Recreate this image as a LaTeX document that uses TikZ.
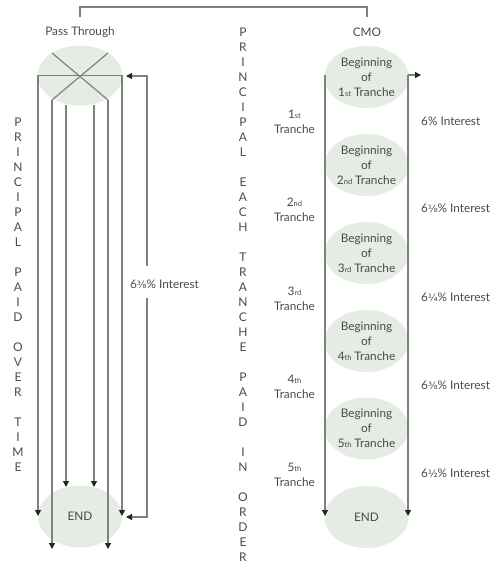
\documentclass[tikz,border=0pt]{standalone}
\usepackage{fontspec}
\setmainfont{Lato}
\newfontfamily\fracfont{DejaVu Sans}
\usetikzlibrary{arrows.meta,shapes.geometric}
\definecolor{ellfill}{HTML}{E5ECE3}
\definecolor{linecol}{HTML}{808080}
\definecolor{txtcol}{HTML}{4A4A4A}
\newcommand{\sx}[1]{{\fontsize{7.5}{7.5}\selectfont #1}}
\newcommand{\fr}[1]{{\fracfont\fontsize{10}{10}\selectfont #1}}
\begin{document}
\begin{tikzpicture}[x=1pt,y=-1pt,
  every node/.style={text=txtcol, font=\fontsize{11.8}{15}\selectfont, inner sep=0pt},
  ell/.style={ellipse, fill=ellfill, minimum width=84pt, minimum height=62pt, align=center},
  conn/.style={draw=linecol, line width=1.2pt},
  arr/.style={conn, -{Triangle[length=6pt,width=6pt,color=black!85]}},
  vlet/.style={font=\fontsize{12}{12}\selectfont},
  lab/.style={align=center},
]
\useasboundingbox (0,0) rectangle (500,572);

% top bracket
\node (ptlabel) at (80,32) {Pass Through};
\node (cmolabel) at (367,32) {CMO};
\coordinate (bl) at (80,17);
\coordinate (br) at (367,17);
\draw[conn] (bl) -- (80,7) -- (367,7) -- (br);

% ---------- Pass Through ----------
\node[ell, minimum width=85pt, minimum height=60pt] (pass) at (80,75.5) {};
\node[ell] (passend) at (80,516.5) {END};

\coordinate (hl) at (38,75.5);
\coordinate (hr) at (122,75.5);
\coordinate (xul) at (52,53);
\coordinate (xur) at (108,53);
\coordinate (xll) at (52,100);
\coordinate (xlr) at (108,100);
\draw[conn] (hl) -- (hr);
\draw[conn] (xul) -- (xlr);
\draw[conn] (xur) -- (xll);
\coordinate (e1) at (52,549);
\coordinate (e2) at (108,549);
\coordinate (e3) at (66,487);
\coordinate (e4) at (94,487);
\coordinate (e5) at (38,516);
\coordinate (e6) at (122,516);
\coordinate (s3) at (66,105);
\coordinate (s4) at (94,105);
\draw[arr] (xll) -- (e1);
\draw[arr] (xlr) -- (e2);
\draw[arr] (s3) -- (e3);
\draw[arr] (s4) -- (e4);
\draw[arr] (hl) -- (e5);
\draw[arr] (hr) -- (e6);

% interest loop on left
\node (lint) at (164.5,284) {6\fr{⅜}\% Interest};
\coordinate (it) at (147,76);
\coordinate (ib) at (147,517);
\coordinate (ig1) at (147,266);
\coordinate (ig2) at (147,298);
\coordinate (ta) at (126,76);
\coordinate (tb) at (126,517);
\draw[arr] (ig1) -- (it) -- (ta);
\draw[arr] (ig2) -- (ib) -- (tb);

% left vertical text
\foreach \l [count=\i from 0] in {P,R,I,N,C,I,P,A,L,{},P,A,I,D,{},O,V,E,R,{},T,I,M,E}
  \node[vlet] (lv\i) at (18,122+15*\i) {\l};

% middle vertical text
\foreach \l [count=\i from 0] in {P,R,I,N,C,I,P,A,L,{},E,A,C,H,{},T,R,A,N,C,H,E,{},P,A,I,D,{},I,N,{},O,R,D,E,R}
  \node[vlet] (mv\i) at (243,32+15*\i) {\l};

% ---------- CMO ----------
\node[ell] (c1) at (366.5,77) {Beginning\\of\\1\sx{st} Tranche};
\node[ell] (c2) at (366.5,165) {Beginning\\of\\2\sx{nd} Tranche};
\node[ell] (c3) at (366.5,253) {Beginning\\of\\3\sx{rd} Tranche};
\node[ell] (c4) at (366.5,341) {Beginning\\of\\4\sx{th} Tranche};
\node[ell] (c5) at (366.5,428.5) {Beginning\\of\\5\sx{th} Tranche};
\node[ell] (cend) at (366.5,517) {END};

\coordinate (cl1) at (325,75);
\coordinate (cl2) at (325,516);
\coordinate (cr1) at (408,75);
\coordinate (cr2) at (408,516);
\coordinate (cra) at (421,75);
\draw[arr] (cl1) -- (cl2);
\draw[arr] (cr1) -- (cr2);
\draw[arr] (cr1) -- (cra);

% tranche labels
\node[lab] (t1) at (294.5,122) {1\sx{st}\\Tranche};
\node[lab] (t2) at (294.5,210) {2\sx{nd}\\Tranche};
\node[lab] (t3) at (294.5,299) {3\sx{rd}\\Tranche};
\node[lab] (t4) at (294.5,386.5) {4\sx{th}\\Tranche};
\node[lab] (t5) at (294.5,474.5) {5\sx{th}\\Tranche};

% interest labels
\node[anchor=west] (i1) at (421,121) {6\% Interest};
\node[anchor=west] (i2) at (421,208) {6\fr{⅛}\% Interest};
\node[anchor=west] (i3) at (421,297) {6\fr{¼}\% Interest};
\node[anchor=west] (i4) at (421,385) {6\fr{⅜}\% Interest};
\node[anchor=west] (i5) at (421,473) {6\fr{½}\% Interest};
\end{tikzpicture}
\end{document}
